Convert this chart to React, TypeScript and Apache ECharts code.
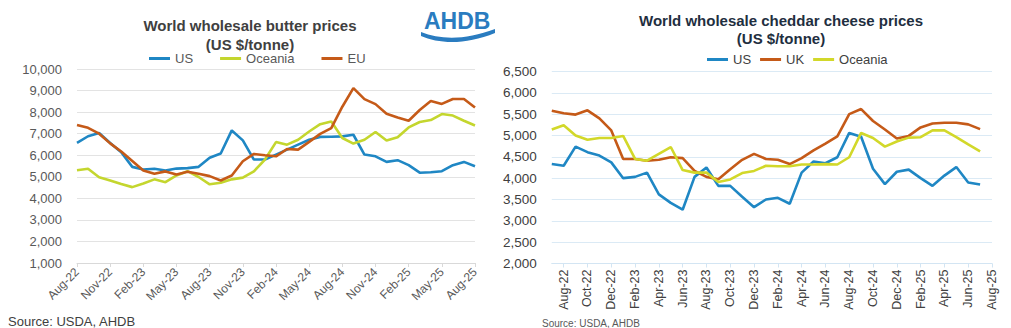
import React, { useEffect, useRef } from "react";
import * as echarts from "echarts";

const FONT = "Arial, 'Liberation Sans', Helvetica, sans-serif";

// ---------- Butter (left) ----------
const butterMonths = [
  "Aug-22", "Sep-22", "Oct-22", "Nov-22", "Dec-22",
  "Jan-23", "Feb-23", "Mar-23", "Apr-23", "May-23", "Jun-23", "Jul-23", "Aug-23", "Sep-23", "Oct-23", "Nov-23", "Dec-23",
  "Jan-24", "Feb-24", "Mar-24", "Apr-24", "May-24", "Jun-24", "Jul-24", "Aug-24", "Sep-24", "Oct-24", "Nov-24", "Dec-24",
  "Jan-25", "Feb-25", "Mar-25", "Apr-25", "May-25", "Jun-25", "Jul-25", "Aug-25",
];
const butterUS = [6570, 6880, 7030, 6570, 6140, 5460, 5340, 5370, 5290, 5380, 5400, 5460, 5880, 6080, 7150, 6690, 5800, 5800, 6030, 6260, 6490, 6720, 6850, 6860, 6875, 6950, 6030, 5950, 5690, 5770, 5540, 5190, 5210, 5260, 5540, 5690, 5490];
const butterOceania = [5300, 5370, 4980, 4830, 4660, 4520, 4690, 4880, 4750, 5060, 5260, 4990, 4650, 4720, 4880, 4960, 5250, 5800, 6610, 6490, 6720, 7100, 7440, 7560, 6800, 6540, 6720, 7080, 6680, 6830, 7290, 7540, 7630, 7910, 7840, 7600, 7380];
const butterEU = [7400, 7270, 7000, 6550, 6170, 5730, 5290, 5140, 5250, 5110, 5230, 5140, 5030, 4830, 5060, 5720, 6060, 6000, 5950, 6290, 6260, 6620, 6990, 7260, 8250, 9110, 8600, 8370, 7920, 7750, 7600, 8100, 8520, 8380, 8610, 8610, 8210];

// ---------- Cheddar (right) ----------
const cheeseMonths = [
  "Jul-22", "Aug-22", "Sep-22", "Oct-22", "Nov-22", "Dec-22",
  "Jan-23", "Feb-23", "Mar-23", "Apr-23", "May-23", "Jun-23", "Jul-23", "Aug-23", "Sep-23", "Oct-23", "Nov-23", "Dec-23",
  "Jan-24", "Feb-24", "Mar-24", "Apr-24", "May-24", "Jun-24", "Jul-24", "Aug-24", "Sep-24", "Oct-24", "Nov-24", "Dec-24",
  "Jan-25", "Feb-25", "Mar-25", "Apr-25", "May-25", "Jun-25", "Jul-25", "Aug-25",
];
const cheeseUS = [4330, 4290, 4740, 4610, 4530, 4370, 4000, 4030, 4130, 3620, 3420, 3260, 4030, 4250, 3820, 3820, 3565, 3320, 3500, 3540, 3400, 4130, 4390, 4350, 4490, 5060, 4970, 4220, 3860, 4150, 4200, 4000, 3820, 4060, 4260, 3900, 3850, null];
const cheeseUK = [5580, 5520, 5490, 5590, 5400, 5120, 4450, 4450, 4410, 4430, 4490, 4470, 4170, 4030, 3975, 4210, 4430, 4570, 4450, 4430, 4330, 4470, 4650, 4810, 4980, 5500, 5620, 5340, 5140, 4930, 4990, 5190, 5280, 5300, 5300, 5260, 5150, null];
const cheeseOceania = [5140, 5240, 5000, 4900, 4940, 4940, 4990, 4450, 4410, 4570, 4730, 4190, 4130, 4130, 3910, 3970, 4120, 4170, 4290, 4280, 4280, 4320, 4320, 4330, 4320, 4490, 5060, 4940, 4740, 4860, 4950, 4960, 5120, 5120, 4960, 4790, 4630, null];

const BLUE = "#1f87c4";
const ORANGE = "#c55a18";
const LIME = "#c4d62e";
const YELLOW = "#d2d82a";

const fmt = (v: number) => String(v).replace(/\B(?=(\d{3})+(?!\d))/g, ",");

echarts.graphic.registerShape(
  "ahdbWave",
  echarts.graphic.extendPath("M0 3 C20 11 45 11 74 0 L74 4 C45 16 18 15 0 7 Z", {})
);

function lineSeries(name: string, data: (number | null)[], color: string) {
  return {
    type: "line",
    name,
    data,
    symbol: "none",
    showSymbol: false,
    connectNulls: false,
    lineStyle: { width: 2.6, color },
    itemStyle: { color },
  };
}

export default function App() {
  const leftRef = useRef<HTMLDivElement>(null);
  const rightRef = useRef<HTMLDivElement>(null);

  useEffect(() => {
    const left = echarts.init(leftRef.current!, null, { renderer: "svg" });
    const right = echarts.init(rightRef.current!, null, { renderer: "svg" });

    left.setOption({
      animation: false,
      textStyle: { fontFamily: FONT },
      grid: { left: 77, top: 69, width: 398, height: 194 },
      legend: {
        left: 144,
        top: 47,
        icon: "rect",
        itemWidth: 21,
        itemHeight: 3,
        itemGap: 27,
        data: ["US", "Oceania", "EU"],
        textStyle: { fontSize: 13, color: "#595959", fontFamily: FONT },
      },
      xAxis: {
        type: "category",
        data: butterMonths,
        boundaryGap: false,
        axisLine: { lineStyle: { color: "#d9d9d9" } },
        axisTick: { show: true, interval: (i: number) => i % 3 === 0, length: 4, lineStyle: { color: "#d9d9d9" } },
        axisLabel: {
          interval: (i: number) => i % 3 === 0,
          rotate: 45,
          fontSize: 12,
          color: "#595959",
          margin: 7,
          fontFamily: FONT,
        },
      },
      yAxis: {
        type: "value",
        min: 1000,
        max: 10000,
        interval: 1000,
        axisLine: { show: false },
        axisTick: { show: false },
        splitLine: { lineStyle: { color: "#e3e3e3" } },
        axisLabel: { formatter: fmt, fontSize: 13, color: "#595959", margin: 15, fontFamily: FONT },
      },
      series: [
        lineSeries("US", butterUS, BLUE),
        lineSeries("Oceania", butterOceania, LIME),
        lineSeries("EU", butterEU, ORANGE),
      ],
      graphic: [
        {
          type: "text",
          x: 250,
          y: 16,
          style: {
            text: "World wholesale butter prices\n(US $/tonne)",
            textAlign: "center",
            textVerticalAlign: "top",
            font: `bold 15px ${FONT}`,
            lineHeight: 19,
            fill: "#404040",
          },
        },
        {
          type: "text",
          x: 424,
          y: 9,
          style: { text: "AHDB", font: `bold 23px ${FONT}`, fill: "#2a7cc0", textVerticalAlign: "top" },
        },
        {
          type: "ahdbWave",
          x: 421,
          y: 29,
          scaleX: 1,
          scaleY: 1,
          style: { fill: "#2a7cc0" },
        },
        {
          type: "text",
          x: 8,
          y: 315,
          style: { text: "Source: USDA, AHDB", font: `13px ${FONT}`, fill: "#404040", textVerticalAlign: "top" },
        },
      ],
    });

    right.setOption({
      animation: false,
      textStyle: { fontFamily: FONT },
      grid: { left: 50, top: 71.5, width: 442, height: 192 },
      legend: {
        left: 202,
        top: 48,
        icon: "rect",
        itemWidth: 21,
        itemHeight: 3,
        itemGap: 9,
        data: ["US", "UK", "Oceania"],
        textStyle: { fontSize: 13, color: "#404040", fontFamily: FONT },
      },
      xAxis: {
        type: "category",
        data: cheeseMonths,
        boundaryGap: false,
        axisLine: { lineStyle: { color: "#d3e5f3" } },
        axisTick: { show: true, interval: (i: number) => i % 2 === 1, length: 4, lineStyle: { color: "#d3e5f3" } },
        axisLabel: {
          interval: (i: number) => i % 2 === 1,
          rotate: 90,
          fontSize: 12.5,
          color: "#404040",
          margin: 6,
          fontFamily: FONT,
        },
      },
      yAxis: {
        type: "value",
        min: 2000,
        max: 6500,
        interval: 500,
        axisLine: { show: false },
        axisTick: { show: false },
        splitLine: { lineStyle: { color: "#dbeaf5" } },
        axisLabel: { formatter: fmt, fontSize: 13.5, color: "#404040", margin: 15, fontFamily: FONT },
      },
      series: [
        lineSeries("US", cheeseUS, BLUE),
        lineSeries("UK", cheeseUK, ORANGE),
        lineSeries("Oceania", cheeseOceania, YELLOW),
      ],
      graphic: [
        {
          type: "text",
          x: 281,
          y: 11,
          style: {
            text: "World wholesale cheddar cheese prices\n(US $/tonne)",
            textAlign: "center",
            textVerticalAlign: "top",
            font: `bold 15px ${FONT}`,
            lineHeight: 18,
            fill: "#1f2f3f",
          },
        },
        {
          type: "text",
          x: 42,
          y: 318,
          style: { text: "Source: USDA, AHDB", font: `10px ${FONT}`, fill: "#595959", textVerticalAlign: "top" },
        },
      ],
    });

    return () => {
      left.dispose();
      right.dispose();
    };
  }, []);

  return (
    <div style={{ position: "fixed", left: 0, top: 0, width: 1011, height: 328, background: "#fff" }}>
      <div ref={leftRef} style={{ position: "absolute", left: 0, top: 0, width: 500, height: 328 }} />
      <div ref={rightRef} style={{ position: "absolute", left: 500, top: 0, width: 511, height: 328 }} />
    </div>
  );
}
